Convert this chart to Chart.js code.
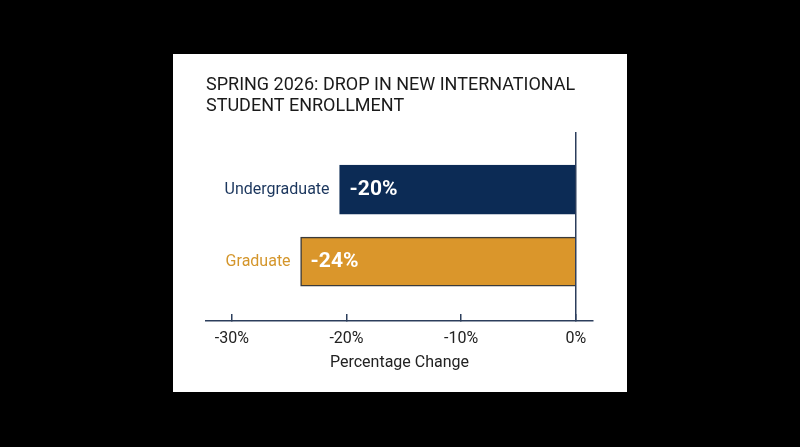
<!DOCTYPE html>
<html lang="en">
<head>
    <meta charset="UTF-8">
    <title>Spring 2026 enrollment</title>
    <script src="https://cdn.jsdelivr.net/npm/chart.js"></script>
    <style>
        body { margin: 0; background: #000; }
        #card { position: absolute; left: 173px; top: 54px; width: 454px; height: 338px; background: #fff; }
    </style>
</head>
<body>
    <div id="card">
        <canvas id="grafico"></canvas>
    </div>

    <script>
        // dados
        const titulo = ['SPRING 2026: DROP IN NEW INTERNATIONAL', 'STUDENT ENROLLMENT']
        const categorias = ['Undergraduate', 'Graduate']
        const valores = [-20.6, -24.0]
        const rotulos = ['-20%', '-24%']
        const ticksX = [-30, -20, -10, 0]
        const cores = ['#0c2b55', '#da962b']
        const bordas = ['#0c2b55', '#3a3a3a']
        const coresTexto = ['#1b365d', '#d4962c']

        const navy = '#2c3e5c'

        // nomes e valores escritos junto das barras
        const rotulosBarras = {
            id: 'rotulosBarras',
            afterDatasetsDraw(chart) {
                const c = chart.ctx
                const meta = chart.getDatasetMeta(0)
                meta.data.forEach((bar, i) => {
                    const esq = Math.min(bar.x, bar.base)
                    c.save()
                    c.textBaseline = 'middle'
                    c.textAlign = 'right'
                    c.fillStyle = coresTexto[i]
                    c.font = '16px Roboto'
                    c.fillText(categorias[i], esq - 10, bar.y)
                    c.textAlign = 'left'
                    c.fillStyle = '#fff'
                    c.font = 'bold 21px Roboto'
                    c.fillText(rotulos[i], esq + 10, bar.y)
                    c.restore()
                })
            }
        }

        const ctx = document.getElementById('grafico')
        new Chart(ctx, {
            type: 'bar',
            data: {
                datasets: [{
                    data: categorias.map((c, i) => ({ x: valores[i], y: i })),
                    backgroundColor: cores,
                    borderColor: bordas,
                    borderWidth: 1.5,
                    barThickness: 49
                }]
            },
            options: {
                indexAxis: 'y',
                responsive: true,
                maintainAspectRatio: false,
                animation: false,
                layout: { padding: { top: 0, left: 33, right: 34, bottom: 19 } },
                plugins: {
                    legend: { display: false },
                    tooltip: { enabled: false },
                    title: {
                        display: true,
                        text: titulo,
                        align: 'start',
                        color: '#1a1a1a',
                        font: { family: 'Roboto', size: 18, weight: 'normal', lineHeight: 21 / 18 },
                        padding: { top: 21, bottom: 15 }
                    }
                },
                scales: {
                    x: {
                        type: 'linear',
                        min: -32.25,
                        max: 1.5,
                        bounds: 'data',
                        z: 1,
                        afterBuildTicks: s => { s.ticks = ticksX.map(v => ({ value: v })) },
                        afterFit: s => { s.height = 52 },
                        border: { color: navy, width: 1.5 },
                        grid: {
                            color: c => (c.tick && c.tick.value === 0) ? navy : 'transparent',
                            lineWidth: 1.5,
                            drawTicks: true,
                            tickLength: -7,
                            tickColor: navy,
                            tickWidth: 1.5
                        },
                        ticks: {
                            padding: 15,
                            color: '#222',
                            font: { family: 'Roboto', size: 16 },
                            callback: v => v + '%'
                        },
                        title: {
                            display: true,
                            text: 'Percentage Change',
                            color: '#222',
                            font: { family: 'Roboto', size: 16 },
                            padding: { top: 6, bottom: 0 }
                        }
                    },
                    y: {
                        type: 'linear',
                        display: false,
                        reverse: true,
                        bounds: 'data',
                        offset: false,
                        min: -0.8,
                        max: 1.825
                    }
                }
            },
            plugins: [rotulosBarras]
        })
    </script>
</body>
</html>
